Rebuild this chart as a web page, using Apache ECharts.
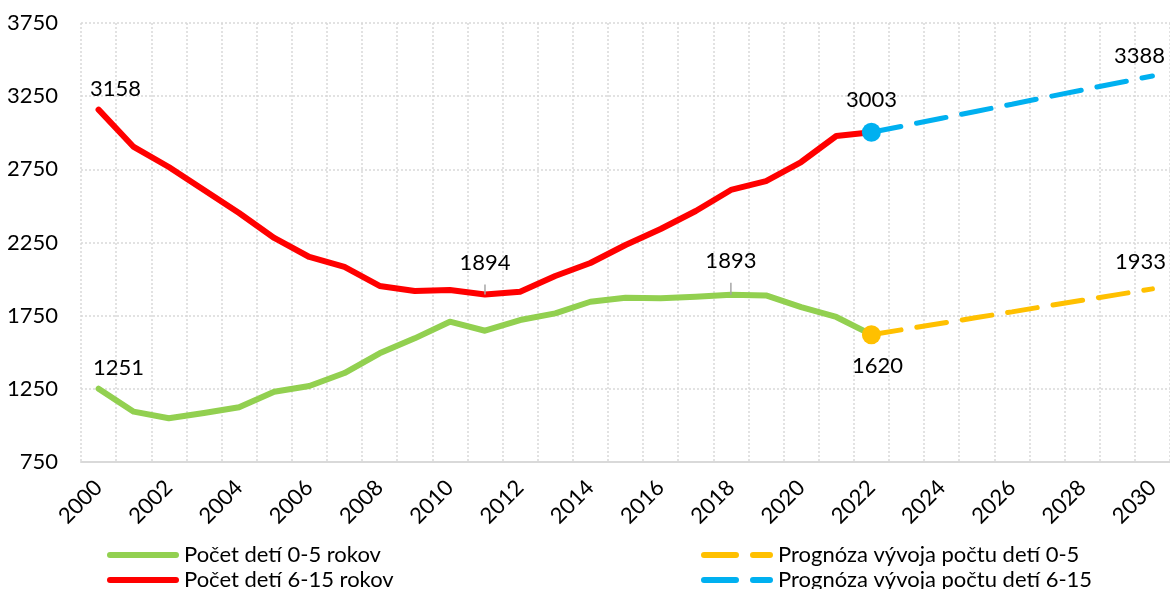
<!DOCTYPE html>
<html>
<head>
<meta charset="utf-8">
<script src="https://cdn.jsdelivr.net/npm/echarts@6/dist/echarts.min.js"></script>
<style>
  html, body { margin: 0; padding: 0; background: #fff; }
  #chart { width: 1170px; height: 589px; }
</style>
</head>
<body>
<div id="chart"></div>
<script>
// roky na osi x
const years = ['2000','2001','2002','2003','2004','2005','2006','2007','2008','2009','2010',
  '2011','2012','2013','2014','2015','2016','2017','2018','2019','2020',
  '2021','2022','2023','2024','2025','2026','2027','2028','2029','2030'];

// pocet deti 0-5 rokov (2000-2022)
const kids05 = [1251, 1094, 1049, 1085, 1124, 1230, 1269, 1358, 1493, 1595, 1709,
  1647, 1720, 1766, 1845, 1873, 1869, 1880, 1893, 1888, 1809, 1741, 1620];
// pocet deti 6-15 rokov (2000-2022)
const kids615 = [3158, 2903, 2766, 2609, 2452, 2281, 2151, 2083, 1953, 1919, 1925,
  1894, 1914, 2021, 2110, 2233, 2342, 2465, 2609, 2670, 2800, 2978, 3003];
// prognoza 2022-2030
const prog05 = [1620, 1659, 1698, 1737, 1776, 1816, 1855, 1894, 1933];
const prog615 = [3003, 3051, 3099, 3147, 3195, 3244, 3292, 3340, 3388];

const yTicks = { min: 750, max: 3750, step: 500 };

const FONT = 'Lato';
const FS = 22;

// ktore body maju popisok
const labels05 = { 0: { dx: 20, dist: 10 }, 18: { dx: 0, dist: 23, line: true } };
const labels615 = { 0: { dx: 17, dist: 10 }, 11: { dx: 0, dist: 21, line: true } };

function mainData(values, labels) {
  return values.map((v, i) => {
    const l = labels[i];
    if (!l) return v;
    return {
      value: v,
      label: { show: true, position: 'top', distance: l.dist, offset: [l.dx, 0] },
      labelLine: { show: !!l.line }
    };
  });
}

function progData(values, startLabel, endLabel) {
  const start = years.indexOf('2022');
  const out = years.map(() => '-');
  values.forEach((v, k) => {
    const item = { value: v, symbolSize: 0 };
    if (k === 0) {
      item.symbolSize = 19;
      item.label = startLabel;
    } else if (k === values.length - 1) {
      item.label = endLabel;
    }
    out[start + k] = item;
  });
  return out;
}

const solidIcon = 'path://M3,0h66a3,3 0 0 1 0,6h-66a3,3 0 0 1 0,-6z';
const dashIcon = 'path://M3,0h32a3,3 0 0 1 0,6h-32a3,3 0 0 1 0,-6z M52,0h17a3,3 0 0 1 0,6h-17a3,3 0 0 1 0,-6z';

function legendItem(name, icon, left, top) {
  return {
    left: left, top: top, orient: 'vertical',
    itemWidth: 72, itemHeight: 6,
    textStyle: { fontFamily: FONT, fontSize: 22, color: '#000' },
    data: [{ name: name, icon: icon }]
  };
}

const chart = echarts.init(document.getElementById('chart'));
const option = {
  animation: false,
  textStyle: { fontFamily: FONT, fontSize: FS, color: '#000' },
  grid: { left: 81, right: 0, top: 23, bottom: 127, containLabel: false },
  legend: [
    legendItem('Počet detí 0-5 rokov', solidIcon, 102, 539),
    legendItem('Počet detí 6-15 rokov', solidIcon, 102, 564),
    legendItem('Prognóza vývoja počtu detí 0-5', dashIcon, 696, 539),
    legendItem('Prognóza vývoja počtu detí 6-15', dashIcon, 696, 564)
  ],
  xAxis: {
    type: 'category',
    data: years,
    boundaryGap: true,
    axisLine: { lineStyle: { color: '#d9d9d9', width: 2 } },
    axisTick: { show: false },
    axisLabel: { interval: 1, rotate: 45, margin: 22, fontFamily: FONT, fontSize: FS, color: '#000' },
    splitLine: { show: true, interval: 0, lineStyle: { color: '#d9d9d9', type: [2, 2], width: 1.5 } }
  },
  yAxis: {
    type: 'value',
    min: yTicks.min, max: yTicks.max, interval: yTicks.step,
    axisLine: { show: false },
    axisTick: { show: false },
    axisLabel: { margin: 23, fontFamily: FONT, fontSize: FS, color: '#000', formatter: v => String(v) },
    splitLine: { lineStyle: { color: '#d9d9d9', type: [2, 2], width: 1.5 } }
  },
  series: [
    {
      name: 'Počet detí 0-5 rokov', type: 'line', z: 3,
      data: mainData(kids05, labels05),
      symbol: 'circle', symbolSize: 0, showSymbol: true,
      itemStyle: { color: '#92D050' },
      lineStyle: { color: '#92D050', width: 6, cap: 'round', join: 'round' },
      label: { fontFamily: FONT, fontSize: FS, color: '#000' },
      labelLine: { lineStyle: { color: '#a6a6a6', width: 1.5 } }
    },
    {
      name: 'Počet detí 6-15 rokov', type: 'line', z: 3,
      data: mainData(kids615, labels615),
      symbol: 'circle', symbolSize: 0, showSymbol: true,
      itemStyle: { color: '#FF0000' },
      lineStyle: { color: '#FF0000', width: 6, cap: 'round', join: 'round' },
      label: { fontFamily: FONT, fontSize: FS, color: '#000' },
      labelLine: { lineStyle: { color: '#a6a6a6', width: 1.5 } }
    },
    {
      name: 'Prognóza vývoja počtu detí 0-5', type: 'line', z: 4,
      data: progData(prog05,
        { show: true, position: 'bottom', distance: 11, offset: [6, 0] },
        { show: true, position: 'top', distance: 16, offset: [-12, 0] }),
      symbol: 'circle', showSymbol: true,
      itemStyle: { color: '#FFC000' },
      lineStyle: { color: '#FFC000', width: 5, type: [30, 16], cap: 'round' },
      label: { fontFamily: FONT, fontSize: FS, color: '#000' }
    },
    {
      name: 'Prognóza vývoja počtu detí 6-15', type: 'line', z: 4,
      data: progData(prog615,
        { show: true, position: 'top', distance: 12, offset: [0, 0] },
        { show: true, position: 'top', distance: 9, offset: [-13, 0] }),
      symbol: 'circle', showSymbol: true,
      itemStyle: { color: '#00B0F0' },
      lineStyle: { color: '#00B0F0', width: 5, type: [30, 16], cap: 'round' },
      label: { fontFamily: FONT, fontSize: FS, color: '#000' }
    }
  ]
};
chart.setOption(option);
</script>
</body>
</html>
